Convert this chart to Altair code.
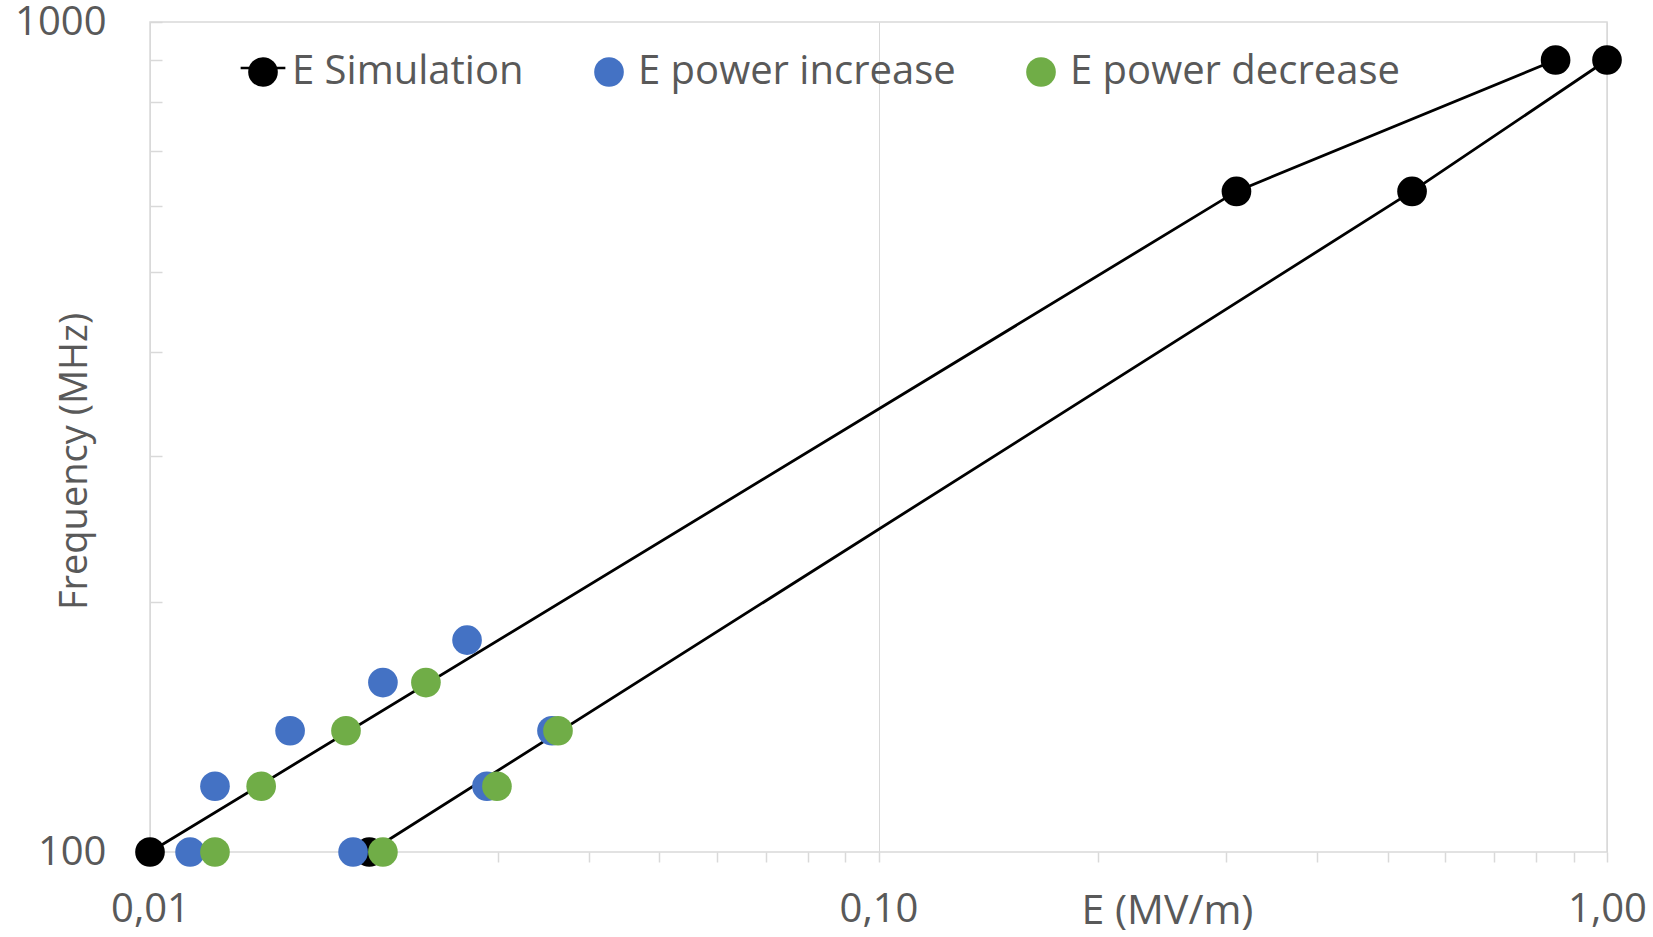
import altair as alt
import pandas as pd

# ---- data ----
series_names = ["E Simulation", "E power increase", "E power decrease"]
series_colors = ["#000000", "#4472C4", "#70AD47"]

sim_E_a = [0.01, 0.31, 0.85]
sim_E_b = [0.02, 0.54, 1.00]
sim_F = [100, 625, 900]

inc_E = [0.01135, 0.01228, 0.01557, 0.02088, 0.02724, 0.0190, 0.02901, 0.03563]
inc_F = [100, 120, 140, 160, 180, 100, 120, 140]

dec_E = [0.01228, 0.01421, 0.01858, 0.02392, 0.02088, 0.02994, 0.03631]
dec_F = [100, 120, 140, 160, 100, 120, 140]

x_ticks = [0.01, 0.02, 0.03, 0.04, 0.05, 0.06, 0.07, 0.08, 0.09,
           0.1, 0.2, 0.3, 0.4, 0.5, 0.6, 0.7, 0.8, 0.9, 1.0]
y_ticks = [100, 200, 300, 400, 500, 600, 700, 800, 900, 1000]

# ---- tables ----
sim_rows = []
for branch, es in (("a", sim_E_a), ("b", sim_E_b)):
    for i, (e, f) in enumerate(zip(es, sim_F)):
        sim_rows.append({"E": e, "F": f, "branch": branch, "ord": i, "series": series_names[0]})
sim_df = pd.DataFrame(sim_rows)

pt_rows = [{"E": r["E"], "F": r["F"], "series": series_names[0]} for r in sim_rows]
pt_rows += [{"E": e, "F": f, "series": series_names[1]} for e, f in zip(inc_E, inc_F)]
pt_rows += [{"E": e, "F": f, "series": series_names[2]} for e, f in zip(dec_E, dec_F)]
pts_df = pd.DataFrame(pt_rows)

GRAY_TXT = "#595959"
GRAY_LN = "#d9d9d9"
FONT = "Open Sans"
FS = 40
PT_SIZE = 880
LINE_SYM = 2000

decade_test = "datum.value === 0.01 || datum.value === 0.1 || datum.value === 1"

x_enc = alt.X(
    "E:Q",
    scale=alt.Scale(type="log", domain=[0.01, 1.0], nice=False),
    axis=alt.Axis(
        values=x_ticks,
        labelExpr="(" + decade_test + ") ? replace(format(datum.value, '.2f'), '.', ',') : ''",
        labelBaseline="middle",
        labelPadding=47,
        tickSize=10,
        labelFlush=False,
        labelOverlap=False,
        labelBound=False,
        grid=True,
        gridColor={"condition": {"test": decade_test, "value": GRAY_LN}, "value": "transparent"},
        title="E (MV/m)",
        titleFontSize=41,
        titleX=1017,
        titleY=59,
        titleAlign="center",
        titleBaseline="middle",
    ),
)

y_enc = alt.Y(
    "F:Q",
    scale=alt.Scale(type="log", domain=[100, 1000], nice=False),
    axis=alt.Axis(
        values=y_ticks,
        labelExpr="(datum.value === 100 || datum.value === 1000) ? format(datum.value, 'd') : ''",
        labelBaseline="middle",
        offset=-12,
        tickSize=12,
        labelPadding=44,
        labelFlush=False,
        labelOverlap=False,
        labelBound=False,
        grid=False,
        title="Frequency  (MHz)",
        titleFontSize=38,
        titleAngle=-90,
        titleX=-87,
        titleY=439,
        titleAlign="center",
        titleBaseline="middle",
    ),
)

# simulation lines; their stroke legend supplies the short line through the black legend dot
lines = alt.Chart(sim_df).mark_line(strokeWidth=2.8).encode(
    x=x_enc,
    y=y_enc,
    detail="branch:N",
    order="ord:Q",
    stroke=alt.Stroke(
        "series:N",
        scale=alt.Scale(domain=series_names[:1], range=series_colors[:1]),
        legend=alt.Legend(
            orient="none",
            legendX=89,
            legendY=22,
            direction="horizontal",
            title=None,
            symbolType="stroke",
            symbolSize=LINE_SYM,
            symbolStrokeWidth=2.5,
            symbolStrokeColor="#000000",
            labelExpr="''",
            labelFontSize=1,
        ),
    ),
)

points = alt.Chart(pts_df).mark_point(filled=True, size=PT_SIZE, opacity=1).encode(
    x=x_enc,
    y=y_enc,
    color=alt.Color(
        "series:N",
        scale=alt.Scale(domain=series_names, range=series_colors),
        legend=alt.Legend(
            orient="none",
            legendX=93,
            legendY=30,
            direction="horizontal",
            title=None,
            labelFont=FONT,
            labelFontSize=FS,
            labelColor=GRAY_TXT,
            labelLimit=800,
            labelOffset=9,
            symbolSize=PT_SIZE,
            symbolOpacity=1,
            columnPadding=65,
        ),
    ),
)

chart = (
    alt.layer(lines, points)
    .properties(
        width=1457,
        height=830,
        autosize=alt.AutoSizeParams(type="none"),
        padding={"left": 150, "top": 22, "right": 46, "bottom": 85},
        background="white",
    )
    .configure_view(stroke=GRAY_LN, strokeWidth=1.5)
    .configure_axis(
        domain=False,
        labelFont=FONT,
        labelFontSize=FS,
        labelColor=GRAY_TXT,
        titleFont=FONT,
        titleFontSize=FS,
        titleColor=GRAY_TXT,
        titleFontWeight="normal",
        tickColor=GRAY_LN,
        tickWidth=1.5,
    )
)

chart.save("out.html", embed_options={"renderer": "svg", "actions": False})
